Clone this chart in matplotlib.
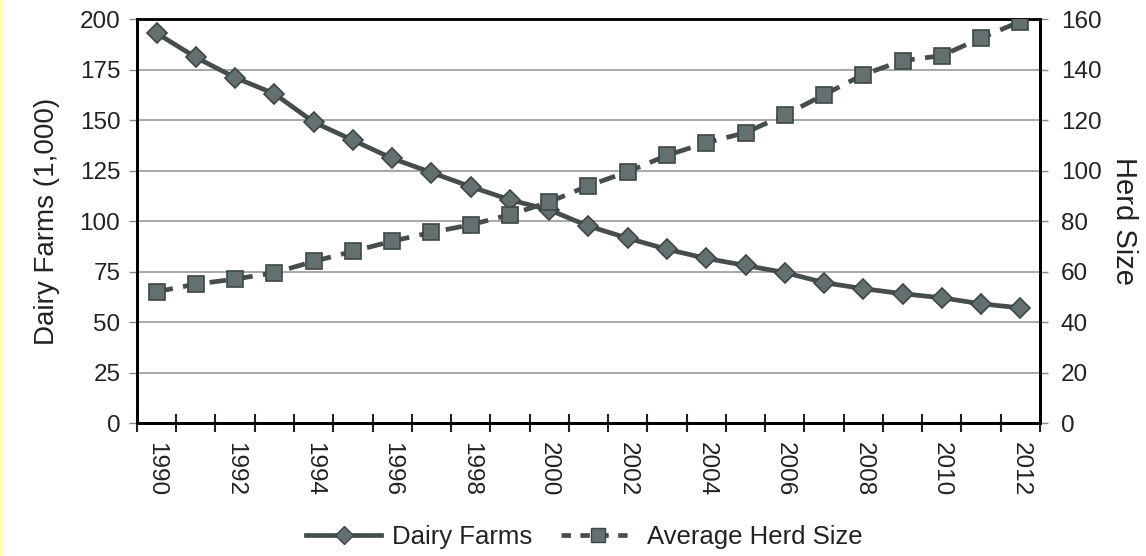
import numpy as np
import matplotlib
matplotlib.use("Agg")
import matplotlib.pyplot as plt
from matplotlib.lines import Line2D

plt.rcParams['font.family'] = ['Liberation Sans', 'DejaVu Sans']

years = list(range(1990, 2013))
dairy_farms = [193, 181, 171, 163, 149, 140, 131, 124, 117, 110.5, 105.5,
               97.5, 91.5, 86, 81.5, 78, 74.5, 69.5, 66.5, 64, 62, 59, 57]
herd_size = [52, 55, 57, 59.5, 64, 68, 72, 75.5, 78.5, 82.5, 87.5,
             94, 99.5, 106, 111, 115, 122, 130, 138, 143.5, 145.5, 152.5, 159]
left_ticks = [0, 25, 50, 75, 100, 125, 150, 175, 200]
right_ticks = [0, 20, 40, 60, 80, 100, 120, 140, 160]

txt = '#222222'
line_col = '#454d4d'
mk_face = '#63706f'
mk_edge = '#3c4646'

fig = plt.figure(figsize=(11.46, 5.56), dpi=100)
ax = fig.add_axes([0.1195, 0.2392, 0.788, 0.7266])
ax2 = ax.twinx()

x = np.arange(len(years))

ax.plot(x, dairy_farms, color=line_col, lw=3.4, marker='D', markersize=10,
        markerfacecolor=mk_face, markeredgecolor=mk_edge, markeredgewidth=1.2,
        zorder=3)
ax2.plot(x, herd_size, color=line_col, lw=3.4, ls=(0, (3.5, 2.2)), marker='s',
         markersize=11, markerfacecolor=mk_face, markeredgecolor=mk_edge,
         markeredgewidth=1.2, zorder=3)

ax.set_xlim(-0.5, len(years) - 0.5)
ax.set_ylim(0, 200)
ax2.set_ylim(0, 160)
ax.set_yticks(left_ticks)
ax2.set_yticks(right_ticks)

ax.set_xticks(x[::2])
ax.set_xticklabels([str(y) for y in years[::2]], rotation=-90, fontsize=17.5,
                   color=txt)
ax.set_xticks(np.arange(-0.5, len(years)), minor=True)
ax.tick_params(axis='x', which='major', length=0, pad=14)
ax.tick_params(axis='x', which='minor', length=13, width=1.5,
               direction='inout', color='#222222')

ax.tick_params(axis='y', labelsize=17.5, labelcolor=txt, length=6, width=1,
               color='#888888', pad=6)
ax2.tick_params(axis='y', labelsize=17.5, labelcolor=txt, length=6, width=1,
                color='#888888', pad=9)
ax.yaxis.grid(True, color='#9a9a9a', lw=1.2)
ax.set_axisbelow(True)

for sp in ['left', 'bottom', 'right']:
    ax.spines[sp].set_linewidth(2)
    ax2.spines[sp].set_linewidth(2)
ax.spines['top'].set_linewidth(1.8)
ax2.spines['top'].set_linewidth(1.8)

ax.set_ylabel('Dairy Farms (1,000)', fontsize=20, color=txt, labelpad=14)
ax2.set_ylabel('Herd Size', fontsize=21, color=txt, rotation=270,
               labelpad=26)

handles = [
    Line2D([], [], color=line_col, lw=3.4, marker='D', markersize=9,
           markerfacecolor=mk_face, markeredgecolor=mk_edge),
    Line2D([], [], color=line_col, lw=3.4, ls=(0, (2, 2)), marker='s',
           markersize=10, markerfacecolor=mk_face, markeredgecolor=mk_edge),
]
fig.legend(handles, ['Dairy Farms', 'Average Herd Size'], loc='center',
           bbox_to_anchor=(0.51, 0.035), ncol=2, frameon=False, fontsize=18.5,
           handlelength=2.9, columnspacing=1.1, handletextpad=0.45,
           labelcolor=txt)

fig.add_artist(Line2D([0.001, 0.001], [0, 1], color='#ffffa8', lw=2,
                      transform=fig.transFigure))

fig.savefig('out.png', dpi=100)
